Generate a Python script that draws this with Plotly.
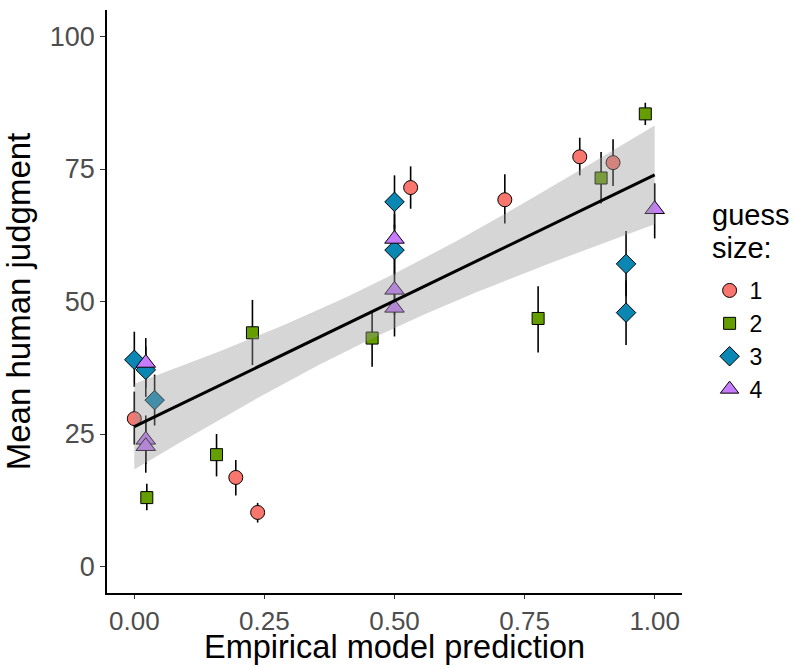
import numpy as np
import plotly.graph_objects as go

groups = ["1", "2", "3", "4"]
colors = ["#F8766D", "#649E00", "#0A87B3", "#C77CFF"]
symbols = ["circle", "square", "diamond", "triangle-up"]
sizes = [14, 12, 15, 17]

x1 = [0.0, 0.195, 0.237, 0.531, 0.712, 0.856, 0.920]
y1 = [27.9, 16.8, 10.2, 71.5, 69.2, 77.3, 76.2]
lo1 = [23.0, 13.4, 8.3, 67.5, 64.7, 73.8, 71.8]
hi1 = [33.0, 20.1, 12.0, 75.5, 74.0, 80.9, 80.6]

x2 = [0.024, 0.158, 0.227, 0.457, 0.776, 0.897, 0.982]
y2 = [13.0, 21.1, 44.1, 43.1, 46.8, 73.3, 85.4]
lo2 = [10.6, 17.0, 38.0, 37.7, 40.4, 68.5, 83.3]
hi2 = [15.6, 25.0, 50.3, 48.4, 52.9, 78.2, 87.5]

x3 = [0.0, 0.022, 0.039, 0.5, 0.5, 0.945, 0.945]
y3 = [39.0, 37.1, 31.4, 68.8, 59.7, 57.1, 47.9]
lo3 = [33.9, 32.0, 26.6, 63.8, 55.0, 51.0, 41.8]
hi3 = [44.3, 41.5, 36.2, 73.8, 64.5, 63.3, 54.0]

x4 = [0.022, 0.022, 0.022, 0.5, 0.5, 0.5, 1.0]
y4 = [38.4, 23.9, 22.7, 61.8, 52.2, 48.8, 67.4]
lo4 = [33.7, 19.3, 17.7, 57.0, 47.5, 43.4, 61.9]
hi4 = [43.1, 28.5, 27.5, 66.5, 57.0, 53.5, 72.3]

xs = [x1, x2, x3, x4]
ys = [y1, y2, y3, y4]
los = [lo1, lo2, lo3, lo4]
his = [hi1, hi2, hi3, hi4]

x_ticks = [0, 0.25, 0.5, 0.75, 1.0]
y_ticks = [0, 25, 50, 75, 100]

fig = go.Figure()

# error bars (lineranges) first
for i in range(4):
    x = np.array(xs[i]); y = np.array(ys[i])
    lo = np.array(los[i]); hi = np.array(his[i])
    fig.add_trace(go.Scatter(
        x=x, y=y, mode="markers", marker=dict(size=1, opacity=0),
        error_y=dict(type="data", symmetric=False, array=hi - y, arrayminus=y - lo,
                     width=0, thickness=1.6, color="black"),
        showlegend=False, hoverinfo="skip"))

# points
for i in range(4):
    fig.add_trace(go.Scatter(
        x=xs[i], y=ys[i], mode="markers", name=groups[i],
        marker=dict(symbol=symbols[i], size=sizes[i], color=colors[i],
                    line=dict(color="black", width=1))))

# linear fit with 95% CI
X = np.concatenate([np.array(v) for v in xs])
Y = np.concatenate([np.array(v) for v in ys])
n = len(X)
b1, b0 = np.polyfit(X, Y, 1)
resid = Y - (b0 + b1 * X)
s = np.sqrt(np.sum(resid ** 2) / (n - 2))
t_crit = 2.056
xg = np.linspace(X.min(), X.max(), 80)
yg = b0 + b1 * xg
se = s * np.sqrt(1.0 / n + (xg - X.mean()) ** 2 / np.sum((X - X.mean()) ** 2))
upper = yg + t_crit * se
lower = yg - t_crit * se

fig.add_trace(go.Scatter(x=np.concatenate([xg, xg[::-1]]),
                         y=np.concatenate([upper, lower[::-1]]),
                         fill="toself", fillcolor="rgba(153,153,153,0.4)",
                         line=dict(width=0), mode="lines",
                         showlegend=False, hoverinfo="skip"))
fig.add_trace(go.Scatter(x=xg, y=yg, mode="lines", line=dict(color="black", width=3),
                         showlegend=False, hoverinfo="skip"))

fig.add_annotation(text="guess", xref="paper", yref="paper", x=1.049, y=(593 - 215) / 583,
                   xanchor="left", yanchor="middle", showarrow=False,
                   font=dict(size=29, color="black"))
fig.add_annotation(text="size:", xref="paper", yref="paper", x=1.049, y=(593 - 248) / 583,
                   xanchor="left", yanchor="middle", showarrow=False,
                   font=dict(size=29, color="black"))
fig.add_annotation(text="Empirical model prediction", xref="paper", yref="paper",
                   x=0.5, y=(593 - 647) / 583, xanchor="center", yanchor="middle",
                   showarrow=False, font=dict(size=32.5, color="black"))

fig.update_layout(
    width=795, height=667,
    margin=dict(l=107, r=113, t=10, b=74),
    plot_bgcolor="white", paper_bgcolor="white",
    font=dict(family="Liberation Sans, Arial, sans-serif", color="black"),
    legend=dict(font=dict(size=23), x=1.048, xanchor="left", y=(593 - 340) / 583,
                yanchor="middle", tracegroupgap=0, itemsizing="trace", itemwidth=30),
    xaxis=dict(range=[-0.0525, 1.0525], tickvals=x_ticks, tickformat=".2f",
               showgrid=False, zeroline=False, showline=True, linecolor="black", linewidth=1.5,
               ticks="outside", ticklen=4, tickcolor="#333333", tickwidth=1.3,
               tickfont=dict(size=26, color="#4D4D4D"),
               automargin=False),
    yaxis=dict(range=[-5, 105], tickvals=y_ticks,
               showgrid=False, zeroline=False, showline=True, linecolor="black", linewidth=1.5,
               ticks="outside", ticklen=5, tickcolor="#333333", tickwidth=1.3,
               tickfont=dict(size=27, color="#4D4D4D"),
               automargin=False,
               title=dict(text="Mean human judgment", font=dict(size=33), standoff=10)),
)

fig.write_html("out.html")
